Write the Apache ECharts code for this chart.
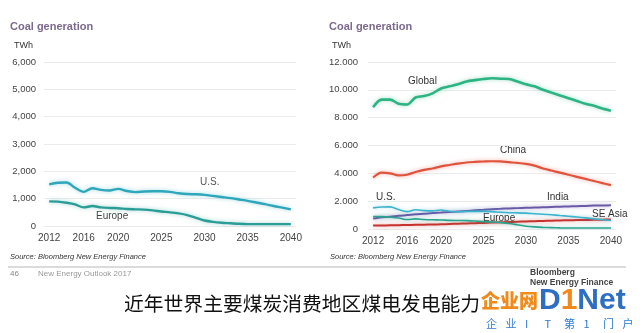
<!DOCTYPE html>
<html><head><meta charset="utf-8">
<script src="https://cdn.jsdelivr.net/npm/echarts@6/dist/echarts.min.js"></script>
<style>html,body{margin:0;padding:0;background:#fff}#c{width:640px;height:333px}</style>
</head><body><div id="c"></div>
<script>
const years = [2012,2013,2014,2015,2016,2017,2018,2019,2020,2021,2022,2023,2024,2025,2026,2027,2028,2029,2030,2031,2032,2033,2034,2035,2036,2037,2038,2039,2040];
const xTicks = [2012,2016,2020,2025,2030,2035,2040];
const leftTicks = [0,1000,2000,3000,4000,5000,6000];
const rightTicks = [0,2000,4000,6000,8000,10000,12000];
const usValues = [1520,1580,1590,1400,1250,1380,1320,1300,1360,1280,1240,1260,1270,1270,1250,1200,1170,1160,1140,1100,1060,1020,970,920,860,800,730,670,610];
const europeValues = [900,890,850,790,680,730,680,660,650,620,610,600,570,530,500,460,400,300,200,150,120,100,80,70,70,70,70,70,70];
const globalValues = [8750,9300,9300,9000,8950,9450,9550,9750,10100,10250,10400,10600,10700,10780,10830,10800,10780,10600,10400,10250,10000,9800,9600,9400,9200,9000,8850,8650,8500];
const chinaValues = [3700,4050,4000,3850,3900,4100,4250,4350,4500,4600,4700,4780,4820,4850,4870,4860,4800,4750,4680,4550,4350,4200,4050,3900,3750,3600,3450,3300,3150];
const indiaValues = [750,850,880,950,1000,1060,1100,1150,1180,1220,1260,1300,1340,1380,1420,1450,1480,1500,1520,1540,1560,1580,1600,1620,1640,1660,1680,1690,1700];
const seAsiaValues = [250,255,265,275,290,300,310,320,340,360,380,400,420,440,460,480,500,520,540,560,580,600,615,630,640,650,660,670,680];
const sloganChars = ['企','业','I','T','第','1','门','户'];

const FONT = "'Liberation Sans', Arial, sans-serif";
const pairs = v => years.map((y,i)=>[y,v[i]]);

const chart = echarts.init(document.getElementById('c'), null, {renderer:'canvas'});

function xAxis(gi){
  return {type:'value', gridIndex:gi, min:2011.4, max:2040.6,
    axisLine:{show:false}, axisTick:{show:false}, splitLine:{show:false},
    axisLabel:{customValues:xTicks, color:'#444', fontSize:10, fontFamily:FONT, margin:7, formatter:v=>String(v)}};
}
function yAxis(gi, max, interval, sep, margin){
  return {type:'value', gridIndex:gi, min:0, max:max, interval:interval,
    axisLine:{show:false}, axisTick:{show:false},
    splitLine:{lineStyle:{color:'#ececec', width:1.2}},
    axisLabel:{color:'#444', fontSize:9.5, fontFamily:FONT, margin:margin,
      formatter:v=> v>=1000 ? Math.floor(v/1000)+sep+String(v%1000).padStart(3,'0') : String(v)}};
}
function line(name, gi, data, color, w){
  return {name, type:'line', xAxisIndex:gi, yAxisIndex:gi, data:pairs(data), symbol:'none', smooth:0.3,
    lineStyle:{color, width:w, shadowColor:echarts.color.modifyAlpha(color,0.45), shadowBlur:4}};
}
function txt(x,y,t,style){ return {type:'text', left:x, top:y, style:Object.assign({text:t, fill:'#333', font:'10px '+FONT}, style||{})}; }

const slogan = sloganChars.map((c,i)=>txt(486+i*19.5,318,c,{fill:'#2f7bd0', font:'11px "Noto Sans CJK SC", sans-serif'}));

chart.setOption({
  animation:false,
  grid:[{left:44, width:252, top:62, height:164},
        {left:368, width:248, top:62, height:167}],
  xAxis:[xAxis(0), xAxis(1)],
  yAxis:[yAxis(0,6000,1000,',',8), yAxis(1,12000,2000,'.',10)],
  series:[
    line('U.S.',0,usValues,'#2ea7bb',2.4),
    line('Europe',0,europeValues,'#2a9e96',2.4),
    line('Global',1,globalValues,'#2db482',2.6),
    line('China',1,chinaValues,'#e0533c',2.2),
    line('India',1,indiaValues,'#6a5aa6',2),
    line('SE Asia',1,seAsiaValues,'#c8322e',2),
    line('Europe',1,europeValues,'#2aa48e',1.6),
    line('U.S.',1,usValues,'#3bb3cc',1.6)
  ],
  graphic:[
    txt(10,21,'Coal generation',{fill:'#7b6a8c', font:'bold 11px '+FONT}),
    txt(14,41,'TWh',{fill:'#333', font:'9px '+FONT}),
    txt(329,21,'Coal generation',{fill:'#7b6a8c', font:'bold 11px '+FONT}),
    txt(332,41,'TWh',{fill:'#333', font:'9px '+FONT}),
    txt(200,177,'U.S.',{fill:'#555', font:'10px '+FONT}),
    txt(96,211,'Europe',{fill:'#444', font:'10px '+FONT}),
    txt(408,76,'Global',{fill:'#333', font:'10px '+FONT}),
    txt(500,145,'China',{fill:'#333', font:'10px '+FONT}),
    txt(376,192,'U.S.',{fill:'#333', font:'10px '+FONT}),
    txt(547,192,'India',{fill:'#333', font:'10px '+FONT}),
    txt(592,209,'SE Asia',{fill:'#333', font:'10px '+FONT}),
    txt(483,213,'Europe',{fill:'#333', font:'10px '+FONT}),
    txt(10,253,'Source: Bloomberg New Energy Finance',{fill:'#333', font:'italic 7.5px '+FONT}),
    txt(330,253,'Source: Bloomberg New Energy Finance',{fill:'#333', font:'italic 7.5px '+FONT}),
    {type:'line', shape:{x1:8,y1:267,x2:626,y2:267}, style:{stroke:'#cfcfcf', lineWidth:1.5}},
    txt(10,270,'46',{fill:'#888', font:'8px '+FONT}),
    txt(38,270,'New Energy Outlook 2017',{fill:'#999', font:'8px '+FONT}),
    txt(530,268,'Bloomberg',{fill:'#444', font:'bold 8.5px '+FONT}),
    txt(530,278,'New Energy Finance',{fill:'#444', font:'bold 8.5px '+FONT}),
    txt(124,294,'近年世界主要煤炭消费地区煤电发电能力',{fill:'#111', font:'19.8px "Noto Sans CJK SC", sans-serif'}),
    txt(481,291,'企业网',{fill:'#f08a1a', font:'900 19px "Noto Sans CJK SC", sans-serif'}),
    {type:'text', left:539, top:286, style:{rich:{b:{fill:'#2f6fc2', font:'bold 30px '+FONT}, o:{fill:'#f08a1a', font:'bold 30px '+FONT}}, text:'{b|D}{o|1}{b|Net}'}}
  ].concat(slogan)
});
</script></body></html>
